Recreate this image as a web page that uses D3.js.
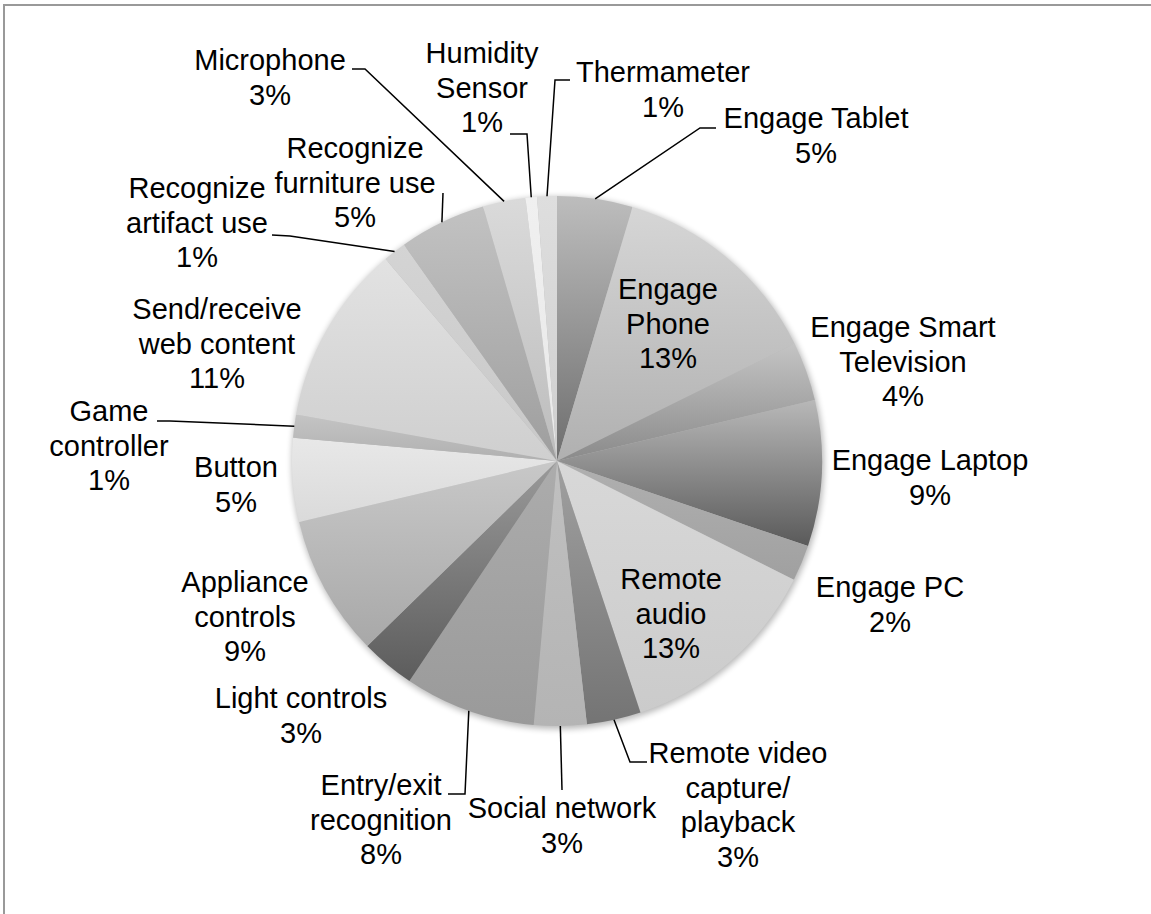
<!DOCTYPE html>
<html>
<head>
<meta charset="utf-8">
<script src="https://cdn.jsdelivr.net/npm/d3@7"></script>
<style>
  html, body { margin: 0; padding: 0; background: #fff; }
  svg { display: block; }
</style>
</head>
<body>
<svg id="chart" width="1151" height="914"></svg>
<script>
// Share of applications per capability (percent). "\n" marks where a label wraps.
const categories = [
  "Engage Tablet",
  "Engage\nPhone",
  "Engage Smart\nTelevision",
  "Engage Laptop",
  "Engage PC",
  "Remote\naudio",
  "Remote video\ncapture/\nplayback",
  "Social network",
  "Entry/exit\nrecognition",
  "Light controls",
  "Appliance\ncontrols",
  "Button",
  "Game\ncontroller",
  "Send/receive\nweb content",
  "Recognize\nartifact use",
  "Recognize\nfurniture use",
  "Microphone",
  "Humidity\nSensor",
  "Thermameter"
];
const shares = [4.6, 13.1, 3.6, 8.9, 2.2, 12.5, 3.3, 3.2, 8.0, 3.3, 8.6, 5.1, 1.4, 11.0, 1.4, 5.3, 2.6, 0.7, 1.2];

// Slice shading: [top, bottom] of each slice's vertical gradient.
const sliceShades = [
  ["#bdbdbd", "#6e6e6e"], ["#d6d6d6", "#b0b0b0"], ["#c4c4c4", "#8a8a8a"], ["#b8b8b8", "#5a5a5a"],
  ["#b0b0b0", "#a0a0a0"], ["#d8d8d8", "#cbcbcb"], ["#a0a0a0", "#747474"], ["#c0c0c0", "#b4b4b4"],
  ["#acacac", "#9a9a9a"], ["#9a9a9a", "#5c5c5c"], ["#c8c8c8", "#a8a8a8"], ["#e8e8e8", "#dadada"],
  ["#c4c4c4", "#b0b0b0"], ["#e2e2e2", "#cfcfcf"], ["#d4d4d4", "#c8c8c8"], ["#c2c2c2", "#9e9e9e"],
  ["#dadada", "#bcbcbc"], ["#f0f0f0", "#e8e8e8"], ["#dedede", "#cfcfcf"]
];

// Label placement: x = text centre, y = first baseline, leader = elbow points before the pie edge.
const labelLayout = [
  { x: 816, y: 128, leader: [[716, 128], [700, 128]] },
  { x: 668, y: 299 },
  { x: 903, y: 337 },
  { x: 930, y: 470 },
  { x: 890, y: 597 },
  { x: 671, y: 589 },
  { x: 738, y: 763, leader: [[647, 762], [630, 762]] },
  { x: 562, y: 818, leader: [[562, 790]] },
  { x: 381, y: 795, leader: [[448, 794], [465, 794]] },
  { x: 301, y: 708 },
  { x: 245, y: 592 },
  { x: 236, y: 477 },
  { x: 109, y: 421, leader: [[157, 421], [170, 421]] },
  { x: 217, y: 319 },
  { x: 197, y: 198, leader: [[272, 235], [290, 236]] },
  { x: 355, y: 158, leader: [[443, 193]] },
  { x: 270, y: 70, leader: [[352, 69], [365, 69]] },
  { x: 482, y: 63, leader: [[510, 134], [527, 134]] },
  { x: 663, y: 82, leader: [[570, 80], [555, 80]] }
];

const W = 1151, H = 914;
const cx = 557, cy = 461, R = 265;
const lineGap = 34.5;

const svg = d3.select("#chart");
const defs = svg.append("defs");

// chart frame (top and left edges)
svg.append("path")
  .attr("d", `M4,${H} L4,5 L${W},5`)
  .attr("fill", "none")
  .attr("stroke", "#999")
  .attr("stroke-width", 2);

// soft shadow under the pie
defs.append("filter").attr("id", "pieShadow")
  .attr("x", "-10%").attr("y", "-10%").attr("width", "120%").attr("height", "120%")
  .append("feGaussianBlur").attr("stdDeviation", 3);

sliceShades.forEach((s, i) => {
  const g = defs.append("linearGradient").attr("id", "shade" + i)
    .attr("x1", 0).attr("y1", 0).attr("x2", 0).attr("y2", 1);
  g.append("stop").attr("offset", "0%").attr("stop-color", s[0]);
  g.append("stop").attr("offset", "100%").attr("stop-color", s[1]);
});

const pie = d3.pie().sort(null).value(d => d).startAngle(0).endAngle(2 * Math.PI);
const arcs = pie(shares);
const arc = d3.arc().innerRadius(0).outerRadius(R);
const edge = d3.arc().innerRadius(R).outerRadius(R);

const pieG = svg.append("g").attr("transform", `translate(${cx},${cy})`);

pieG.append("circle")
  .attr("cx", 1).attr("cy", 2).attr("r", R + 1)
  .attr("fill", "#000").attr("opacity", 0.28)
  .attr("filter", "url(#pieShadow)");

pieG.selectAll("path.slice")
  .data(arcs)
  .join("path")
  .attr("class", "slice")
  .attr("d", arc)
  .attr("fill", (d, i) => `url(#shade${i})`);

// leader lines from label elbows to the slice mid-angle on the rim
const line = d3.line();
arcs.forEach((d, i) => {
  const L = labelLayout[i];
  if (!L.leader) return;
  const [ex, ey] = edge.centroid(d);
  const pts = L.leader.concat([[cx + ex, cy + ey]]);
  svg.append("path")
    .attr("d", line(pts))
    .attr("fill", "none")
    .attr("stroke", "#000")
    .attr("stroke-width", 1.5);
});

// labels: category name lines followed by the rounded percentage
const fmt = v => Math.round(v) + "%";
const labels = svg.append("g")
  .attr("font-family", "'Liberation Sans', Arial, sans-serif")
  .attr("font-size", 29)
  .attr("fill", "#000")
  .attr("text-anchor", "middle");

categories.forEach((name, i) => {
  const L = labelLayout[i];
  const rows = name.split("\n").concat([fmt(shares[i])]);
  const t = labels.append("text").attr("x", L.x).attr("y", L.y);
  rows.forEach((r, k) => {
    t.append("tspan").attr("x", L.x).attr("y", L.y + k * lineGap).text(r);
  });
});
</script>
</body>
</html>
